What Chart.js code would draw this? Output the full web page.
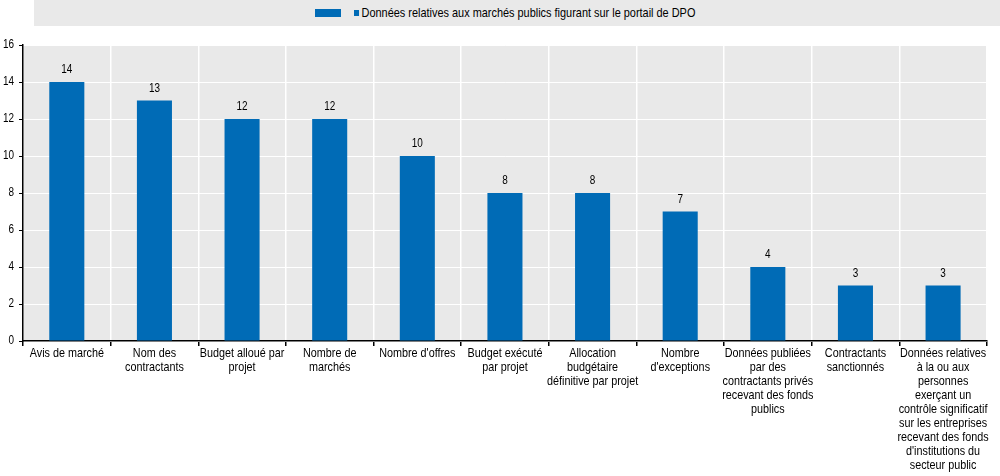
<!DOCTYPE html>
<html>
<head>
<meta charset="utf-8">
<script src="https://cdn.jsdelivr.net/npm/chart.js@4/dist/chart.umd.min.js"></script>
<style>
  html, body { margin: 0; padding: 0; background: #fff; }
  body { width: 1000px; height: 476px; position: relative; overflow: hidden;
         font-family: 'Liberation Sans', Arial, sans-serif; }
  #legend { position: absolute; left: 34px; top: 0; width: 966px; height: 26px; background: #e9e9e9; }
  #legend .swatch { position: absolute; left: 281px; top: 9px; width: 26px; height: 8px; background: #006bb6; }
  #legend .txt { position: absolute; left: 320px; top: 5px; font-size: 13px; color: #000; white-space: nowrap;
                 transform: scaleX(0.84); transform-origin: 0 0; }
  #legend .sq { display: inline-block; width: 6px; height: 6px; background: #006bb6; margin-right: 3px; vertical-align: 1px; }
  #wrap { position: absolute; left: 0; top: 0; width: 1000px; height: 476px; }
</style>
</head>
<body>
<div id="wrap"><canvas id="chart" width="1000" height="476"></canvas></div>
<div id="legend"><div class="swatch"></div><div class="txt"><span class="sq"></span>Données relatives aux marchés publics figurant sur le portail de DPO</div></div>
<script>
  // Categories (multi-line labels as in the original)
  const categories = [
    ['Avis de marché'],
    ['Nom des', 'contractants'],
    ['Budget alloué par', 'projet'],
    ['Nombre de', 'marchés'],
    ["Nombre d'offres"],
    ['Budget exécuté', 'par projet'],
    ['Allocation', 'budgétaire', 'définitive par projet'],
    ['Nombre', "d'exceptions"],
    ['Données publiées', 'par des', 'contractants privés', 'recevant des fonds', 'publics'],
    ['Contractants', 'sanctionnés'],
    ['Données relatives', 'à la ou aux', 'personnes', 'exerçant un', 'contrôle significatif', 'sur les entreprises', 'recevant des fonds', "d'institutions du", 'secteur public']
  ];
  const seriesLabel = 'Données relatives aux marchés publics figurant sur le portail de DPO';
  const values = [14, 13, 12, 12, 10, 8, 8, 7, 4, 3, 3];
  const yTicks = [0, 2, 4, 6, 8, 10, 12, 14, 16];

  const fontFamily = "'Liberation Sans', Arial, sans-serif";
  const narrow = 0.83; // squeeze text to look like Arial Narrow

  function narrowText(ctx, text, x, y) {
    ctx.save();
    ctx.translate(x, y);
    ctx.scale(narrow, 1);
    ctx.fillText(text, 0, 0);
    ctx.restore();
  }

  // gray plot background
  const plotBg = {
    id: 'plotBg',
    beforeDraw(chart) {
      const a = chart.chartArea;
      const ctx = chart.ctx;
      ctx.save();
      ctx.fillStyle = '#e9e9e9';
      ctx.fillRect(a.left, a.top, a.right - a.left, a.bottom - a.top);
      ctx.restore();
    }
  };

  // values above the bars, and the category labels
  const textLayer = {
    id: 'textLayer',
    afterDraw(chart) {
      const ctx = chart.ctx;
      const meta = chart.getDatasetMeta(0);
      const xs = chart.scales.x;
      ctx.save();
      ctx.fillStyle = '#000';
      ctx.textAlign = 'center';

      ctx.font = '12px ' + fontFamily;
      ctx.textBaseline = 'bottom';
      meta.data.forEach((bar, i) => {
        narrowText(ctx, String(values[i]), bar.x, bar.y - 6);
      });

      ctx.font = '13px ' + fontFamily;
      ctx.textBaseline = 'top';
      categories.forEach((lines, i) => {
        const x = xs.getPixelForTick(i);
        lines.forEach((line, j) => {
          narrowText(ctx, line, x, chart.chartArea.bottom + 6 + j * 14);
        });
      });

      ctx.font = '12px ' + fontFamily;
      ctx.textAlign = 'right';
      ctx.textBaseline = 'middle';
      const ys = chart.scales.y;
      yTicks.forEach(v => {
        narrowText(ctx, String(v), 14, ys.getPixelForValue(v));
      });
      ctx.restore();
    }
  };

  new Chart(document.getElementById('chart'), {
    type: 'bar',
    data: {
      labels: categories,
      datasets: [{
        label: seriesLabel,
        data: values,
        backgroundColor: '#006bb6',
        barPercentage: 0.4,
        categoryPercentage: 1
      }]
    },
    options: {
      responsive: false,
      animation: false,
      layout: { padding: { top: 45, right: 0, left: 0, bottom: 0 } },
      plugins: {
        legend: { display: false },
        tooltip: { enabled: false }
      },
      scales: {
        x: {
          offset: true,
          grid: { offset: true, color: '#fff', lineWidth: 1.5, tickColor: '#000', tickLength: 5 },
          border: { display: true, color: '#000', width: 1.5 },
          ticks: {
            color: 'rgba(0,0,0,0)',
            font: { family: fontFamily, size: 13 },
            maxRotation: 0,
            autoSkip: false,
            padding: 2
          },
          afterFit(scale) { scale.height = 135; }
        },
        y: {
          min: 0,
          max: 16,
          afterBuildTicks(scale) { scale.ticks = yTicks.map(v => ({ value: v })); },
          grid: { color: '#fff', lineWidth: 1, tickColor: '#000', tickLength: 4 },
          border: { display: true, color: '#000', width: 1.5 },
          ticks: {
            color: 'rgba(0,0,0,0)',
            font: { family: fontFamily, size: 12 },
            padding: 4
          },
          afterFit(scale) { scale.width = 23; }
        }
      }
    },
    plugins: [plotBg, textLayer]
  });
</script>
</body>
</html>
